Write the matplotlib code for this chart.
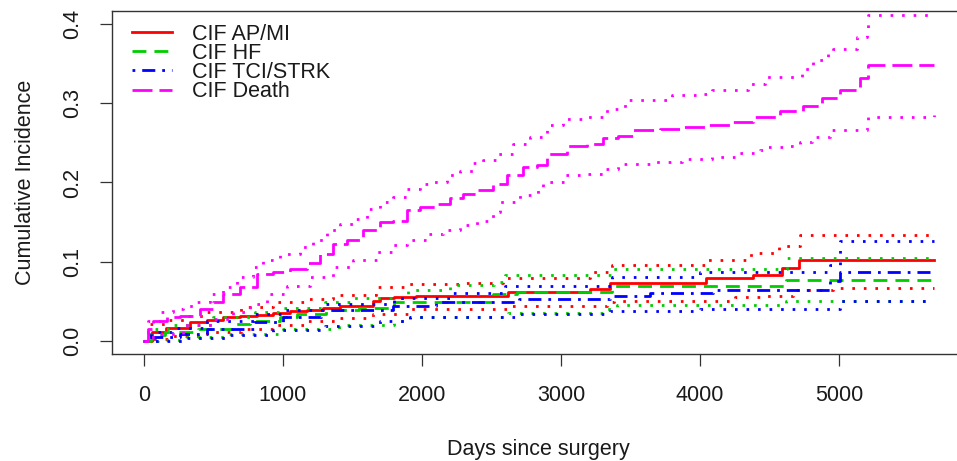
import matplotlib
matplotlib.use('Agg')
import matplotlib.pyplot as plt

plt.rcParams['font.family'] = ['Liberation Sans', 'DejaVu Sans']

# ---------------- data ----------------
labels = ["CIF AP/MI", "CIF HF", "CIF TCI/STRK", "CIF Death"]
colors = ["#FF0000", "#00CD00", "#0000FF", "#FF00FF"]

# AP/MI
apmi_x = [0, 60, 160, 330, 450, 570, 690, 810, 930, 1050, 1170, 1290, 1410, 1620, 1650, 1700, 1800, 1960, 2620, 3210, 3350, 4040, 4380, 4590, 4710, 5680]
apmi_y = [0, 0.012, 0.017, 0.024, 0.027, 0.030, 0.032, 0.033, 0.036, 0.038, 0.040, 0.042, 0.044, 0.045, 0.051, 0.054, 0.056, 0.057, 0.062, 0.066, 0.074, 0.080, 0.084, 0.092, 0.102, 0.102]
apmi_up_x = [0, 40, 150, 300, 450, 700, 930, 1150, 1360, 1670, 1910, 2280, 2580, 3210, 3370, 4040, 4370, 4570, 4720, 5680]
apmi_up_y = [0, 0.022, 0.027, 0.032, 0.037, 0.043, 0.049, 0.053, 0.058, 0.068, 0.072, 0.074, 0.080, 0.087, 0.0955, 0.102, 0.111, 0.120, 0.134, 0.134]
apmi_lo_x = [0, 60, 200, 450, 700, 930, 1170, 1400, 1650, 1910, 2610, 3330, 3380, 4250, 4450, 4670, 4960, 5680]
apmi_lo_y = [0, 0.003, 0.007, 0.012, 0.016, 0.021, 0.025, 0.029, 0.035, 0.041, 0.045, 0.049, 0.0513, 0.0555, 0.0576, 0.064, 0.0668, 0.0668]

# HF
hf_x = [0, 50, 150, 390, 640, 760, 980, 1100, 1310, 1550, 1800, 2510, 2680, 3370, 4620, 5680]
hf_y = [0, 0.008, 0.012, 0.015, 0.022, 0.026, 0.030, 0.034, 0.040, 0.042, 0.049, 0.059, 0.062, 0.070, 0.077, 0.077]
hf_up_x = [0, 50, 200, 500, 800, 1000, 1300, 1500, 1900, 2200, 2520, 2600, 3370, 4626, 5680]
hf_up_y = [0, 0.016, 0.020, 0.030, 0.037, 0.042, 0.050, 0.055, 0.065, 0.071, 0.075, 0.083, 0.091, 0.105, 0.105]
hf_lo_x = [0, 100, 300, 600, 1000, 1400, 1800, 1914, 2620, 3300, 3400, 4620, 5680]
hf_lo_y = [0, 0.002, 0.005, 0.009, 0.015, 0.021, 0.026, 0.030, 0.036, 0.041, 0.046, 0.0505, 0.0505]

# TCI/STRK
tci_x = [0, 50, 260, 450, 790, 1000, 1270, 1790, 2100, 2700, 3350, 3640, 4090, 4935, 5007, 5680]
tci_y = [0, 0.005, 0.009, 0.015, 0.024, 0.030, 0.039, 0.045, 0.049, 0.0535, 0.0576, 0.0605, 0.065, 0.0765, 0.087, 0.087]
tci_up_x = [0, 50, 200, 450, 800, 1000, 1300, 1800, 2200, 2600, 3370, 4000, 4935, 5007, 5680]
tci_up_y = [0, 0.012, 0.017, 0.025, 0.034, 0.040, 0.047, 0.055, 0.061, 0.070, 0.081, 0.087, 0.0955, 0.126, 0.126]
tci_lo_x = [0, 100, 300, 600, 930, 1300, 1700, 1914, 2700, 3350, 4000, 5007, 5680]
tci_lo_y = [0, 0.001, 0.004, 0.008, 0.014, 0.019, 0.025, 0.030, 0.0345, 0.038, 0.041, 0.0505, 0.0505]

# Death
death_x = [0, 30, 67, 163, 259, 403, 499, 571, 691, 811, 930, 1050, 1170, 1266, 1362, 1458, 1578, 1698, 1794, 1890, 1986, 2106, 2201, 2297, 2393, 2513, 2609, 2729, 2825, 2897, 3041, 3185, 3304, 3412, 3520, 3712, 3880, 4060, 4240, 4384, 4576, 4744, 4876, 5007, 5151, 5211, 5680]
death_y = [0, 0.015, 0.026, 0.030, 0.032, 0.041, 0.049, 0.060, 0.068, 0.085, 0.087, 0.091, 0.098, 0.110, 0.123, 0.127, 0.140, 0.150, 0.152, 0.165, 0.169, 0.173, 0.180, 0.186, 0.190, 0.1985, 0.209, 0.2195, 0.2216, 0.236, 0.246, 0.249, 0.2565, 0.259, 0.266, 0.268, 0.270, 0.272, 0.276, 0.2825, 0.290, 0.296, 0.3065, 0.317, 0.331, 0.3485, 0.3485]
death_up_x = [0, 30, 115, 211, 283, 379, 475, 571, 667, 786, 859, 978, 1122, 1218, 1314, 1410, 1506, 1602, 1698, 1794, 1890, 1986, 2081, 2177, 2273, 2369, 2441, 2537, 2657, 2777, 2897, 3017, 3161, 3329, 3460, 3664, 3796, 4024, 4084, 4216, 4348, 4468, 4623, 4731, 4815, 4923, 4959, 5127, 5199, 5211, 5680]
death_up_y = [0, 0.025, 0.037, 0.041, 0.045, 0.049, 0.060, 0.068, 0.081, 0.093, 0.102, 0.110, 0.119, 0.127, 0.140, 0.148, 0.154, 0.167, 0.175, 0.182, 0.192, 0.1985, 0.2005, 0.209, 0.215, 0.224, 0.228, 0.236, 0.249, 0.257, 0.272, 0.280, 0.2825, 0.293, 0.3035, 0.304, 0.310, 0.311, 0.316, 0.317, 0.324, 0.333, 0.333, 0.3435, 0.354, 0.3625, 0.3687, 0.383, 0.392, 0.411, 0.413]
death_lo_x = [0, 50, 91, 283, 475, 643, 763, 883, 1027, 1194, 1362, 1506, 1674, 1794, 1890, 2034, 2153, 2273, 2393, 2513, 2561, 2705, 2837, 2873, 3029, 3173, 3304, 3412, 3640, 3868, 4084, 4276, 4432, 4480, 4623, 4719, 4803, 4935, 5091, 5199, 5211, 5680]
death_lo_y = [0, 0.006, 0.009, 0.020, 0.028, 0.037, 0.047, 0.060, 0.070, 0.081, 0.093, 0.102, 0.112, 0.121, 0.127, 0.135, 0.140, 0.146, 0.152, 0.163, 0.175, 0.184, 0.190, 0.2005, 0.209, 0.211, 0.2174, 0.2237, 0.2257, 0.230, 0.232, 0.237, 0.2405, 0.2446, 0.246, 0.251, 0.257, 0.2657, 0.2657, 0.274, 0.2825, 0.2846]

x_ticks = [0, 1000, 2000, 3000, 4000, 5000]
y_ticks = [0.0, 0.1, 0.2, 0.3, 0.4]
y_tick_labels = ["0.0", "0.1", "0.2", "0.3", "0.4"]
x_label = "Days since surgery"
y_label = "Cumulative Incidence"

# ---------------- styling ----------------
LW = 2.0
dotted = (0, (0.95, 3.2))
main_styles = ["-", (0, (5.0, 2.9)), (0, (1.0, 2.5, 4.7, 2.5)), (0, (7.2, 2.5))]

series = [
    (apmi_x, apmi_y, apmi_up_x, apmi_up_y, apmi_lo_x, apmi_lo_y),
    (hf_x, hf_y, hf_up_x, hf_up_y, hf_lo_x, hf_lo_y),
    (tci_x, tci_y, tci_up_x, tci_up_y, tci_lo_x, tci_lo_y),
    (death_x, death_y, death_up_x, death_up_y, death_lo_x, death_lo_y),
]

fig = plt.figure(figsize=(9.57, 4.61), dpi=100)
ax = fig.add_axes([112 / 957, 107 / 461, 853 / 957, 343 / 461])

handles = []
for (mx, my, ux, uy, lx, ly), col, ls, lab in zip(series, colors, main_styles, labels):
    ax.plot(ux, uy, drawstyle="steps-post", color=col, lw=LW, linestyle=dotted)
    ax.plot(lx, ly, drawstyle="steps-post", color=col, lw=LW, linestyle=dotted)
    h, = ax.plot(mx, my, drawstyle="steps-post", color=col, lw=LW, linestyle=ls, label=lab)
    handles.append(h)

ax.set_xlim(-230, 5906)
ax.set_ylim(-0.016, 0.416)

txt_col = "#1a1a1a"
ax.set_xticks(x_ticks)
ax.set_xticklabels([str(v) for v in x_ticks])
ax.set_yticks(y_ticks)
ax.set_yticklabels(y_tick_labels, rotation=90, va="center")
ax.tick_params(axis="both", direction="out", length=8.8, width=0.9, color="#333333",
               labelsize=15.5, labelcolor=txt_col)
ax.tick_params(axis="x", pad=13.5)
ax.tick_params(axis="y", pad=12)
for s in ax.spines.values():
    s.set_color("#333333")
    s.set_linewidth(1.0)

ax.set_xlabel(x_label, fontsize=15.5, color=txt_col, labelpad=24)
ax.set_ylabel(y_label, fontsize=15.5, color=txt_col, labelpad=19)

leg = ax.legend(handles=handles, loc="upper left", bbox_to_anchor=(0.0234, 0.963),
                frameon=False, fontsize=15.5, borderpad=0, borderaxespad=0,
                handlelength=1.86, handletextpad=0.93, labelspacing=-0.085)
for t in leg.get_texts():
    t.set_color(txt_col)

fig.savefig("out.png", dpi=100)
